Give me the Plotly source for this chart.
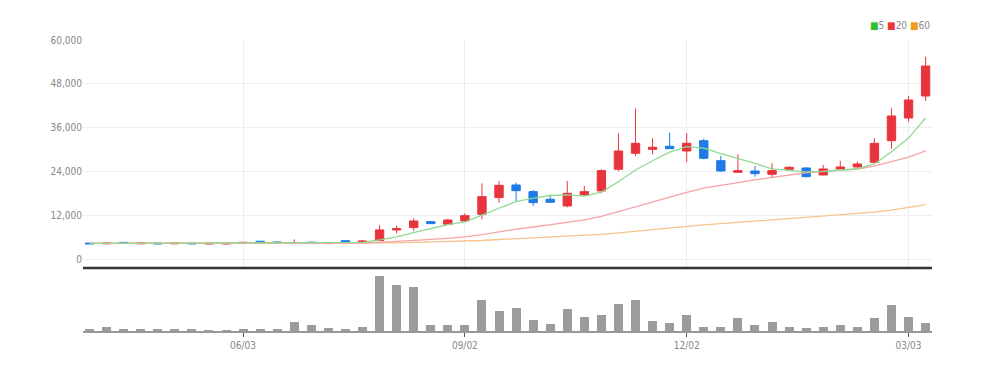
import pandas as pd
import plotly.graph_objects as go

# ---- data (weekly) ----
dates = pd.date_range("2024-04-01", periods=50, freq="7D")

opens = [4600, 4400, 4800, 4400, 4650, 4400, 4600, 4350, 4350, 4500,
         5100, 4900, 4500, 4850, 4450, 5250, 4850, 5270, 8180, 8820,
         10450, 9730, 10630, 12450, 17000, 20450, 18630, 16550, 14730, 17730,
         18820, 24730, 29100, 30180, 31000, 29720, 32540, 27080, 23910, 24270,
         23360, 24730, 25090, 23180, 24820, 25360, 26640, 32540, 38720, 44720]
highs = [4700, 4700, 4900, 4700, 4700, 4700, 4700, 4650, 4650, 4900,
         5200, 5000, 5600, 4950, 4800, 5350, 5500, 9540, 9270, 11360,
         10600, 11200, 12700, 20900, 21550, 21090, 19090, 17730, 21540, 20180,
         24730, 34540, 41360, 33180, 34720, 34540, 33080, 28360, 28820, 25630,
         26360, 25600, 25300, 25900, 27080, 26800, 33180, 41370, 44720, 55440]
lows = [4300, 4300, 4450, 4300, 4300, 4300, 4300, 4250, 4250, 4400,
        4700, 4500, 4400, 4500, 4350, 4750, 4750, 5200, 7280, 7900,
        9800, 9600, 10500, 11100, 15630, 15900, 14730, 15600, 14360, 17450,
        18180, 24270, 28360, 28820, 30300, 26640, 27450, 24000, 23910, 22720,
        22540, 24500, 22500, 23100, 24800, 25200, 26360, 30270, 37720, 43360]
closes = [4400, 4600, 4550, 4600, 4400, 4600, 4400, 4550, 4550, 4800,
          4800, 4600, 4750, 4600, 4700, 4850, 5150, 8180, 8540, 10630,
          9900, 10900, 12080, 17270, 20360, 18900, 15630, 15730, 18180, 18630,
          24360, 29720, 31820, 30730, 30360, 31820, 27730, 24270, 24360, 23540,
          24360, 25270, 22720, 24820, 25360, 26180, 31820, 39270, 43630, 52900]

ma5 = [4500, 4500, 4520, 4540, 4510, 4550, 4510, 4510, 4500, 4580,
       4620, 4660, 4700, 4710, 4690, 4700, 4810, 5500, 6280, 7470,
       8480, 9630, 10410, 12160, 14100, 15900, 16850, 17580, 17760, 17410,
       18510, 21320, 24540, 27050, 29400, 30890, 30490, 28980, 27710, 26340,
       24850, 24360, 24050, 24140, 24510, 24870, 26180, 29490, 33250, 38760]
ma20 = [4495, 4500, 4502, 4508, 4502, 4508, 4502, 4505, 4507, 4522,
        4538, 4542, 4555, 4560, 4570, 4588, 4620, 4804, 5006, 5313,
        5588, 5903, 6279, 6913, 7711, 8426, 8987, 9546, 10228, 10919,
        11897, 13153, 14507, 15813, 17096, 18445, 19574, 20378, 21169, 21815,
        22538, 23256, 23788, 24166, 24416, 24780, 25589, 26766, 28039, 29752]
ma60 = [4498, 4500, 4501, 4503, 4501, 4503, 4501, 4502, 4502, 4508,
        4513, 4514, 4518, 4520, 4523, 4529, 4540, 4601, 4669, 4771,
        4861, 4968, 5094, 5307, 5571, 5811, 5997, 6184, 6412, 6647,
        6978, 7399, 7854, 8291, 8722, 9177, 9565, 9894, 10225, 10542,
        10873, 11220, 11523, 11862, 12210, 12571, 13026, 13606, 14258, 15065]

volumes = [65000, 215000, 50000, 50000, 50000, 50000, 50000, 10000, 10000, 100000,
           115000, 65000, 450000, 315000, 135000, 50000, 200000, 2750000, 2315000, 2215000,
           315000, 315000, 315000, 1565000, 985000, 1150000, 565000, 365000, 1115000, 700000,
           785000, 1365000, 1565000, 485000, 400000, 785000, 215000, 215000, 635000, 315000,
           465000, 185000, 135000, 215000, 315000, 215000, 635000, 1285000, 700000, 400000]

tick_dates = ["2024-06-03", "2024-09-02", "2024-12-02", "2025-03-03"]
tick_labels = ["06/03", "09/02", "12/02", "03/03"]
price_ticks = [0, 12000, 24000, 36000, 48000, 60000]

RED = "#e8343c"
BLUE = "#1f7ae8"
FONT = "DejaVu Sans Condensed, Liberation Sans Narrow, Arial Narrow, sans-serif"

fig = go.Figure()
fig.add_trace(go.Scatter(x=dates, y=ma60, mode="lines", line=dict(color="#f7c38e", width=1.3),
                         xaxis="x", yaxis="y", showlegend=False, hoverinfo="skip"))
fig.add_trace(go.Scatter(x=dates, y=ma20, mode="lines", line=dict(color="#f5a3a8", width=1.3),
                         xaxis="x", yaxis="y", showlegend=False, hoverinfo="skip"))
fig.add_trace(go.Scatter(x=dates, y=ma5, mode="lines", line=dict(color="#8fd88f", width=1.3),
                         xaxis="x", yaxis="y", showlegend=False, hoverinfo="skip"))
fig.add_trace(go.Candlestick(
    x=dates, open=opens, high=highs, low=lows, close=closes,
    increasing=dict(line=dict(color=RED, width=1), fillcolor=RED),
    decreasing=dict(line=dict(color=BLUE, width=1), fillcolor=BLUE),
    whiskerwidth=0, xaxis="x", yaxis="y", showlegend=False))
fig.add_trace(go.Bar(x=dates, y=volumes, marker=dict(color="#9c9c9c", line=dict(width=0)),
                     width=3.7 * 86400000, xaxis="x2", yaxis="y2", showlegend=False))

x_range = ["2024-03-29 08:00", "2025-03-12 15:00"]

fig.update_layout(
    width=989, height=372,
    margin=dict(l=75, r=65, t=32, b=49, autoexpand=False),
    paper_bgcolor="white", plot_bgcolor="white",
    font=dict(family=FONT, size=10, color="#888"),
    bargap=0,
    xaxis=dict(domain=[0, 1], range=x_range, anchor="y", type="date",
               tickvals=tick_dates, showticklabels=False, ticks="",
               showgrid=True, gridcolor="#eeeeee", gridwidth=1, zeroline=False,
               showline=False, rangeslider=dict(visible=False), automargin=False),
    xaxis2=dict(domain=[0, 1], range=x_range, anchor="y2", type="date", matches="x",
                tickvals=tick_dates, ticktext=tick_labels, ticks="outside", ticklen=4,
                tickcolor="#555", showgrid=False, zeroline=False, showline=True,
                linecolor="#999", linewidth=2, automargin=False,
                tickfont=dict(family=FONT, size=10, color="#888")),
    yaxis=dict(domain=[0.2165, 1], range=[-2200, 60000], tickvals=price_ticks,
               tickformat=",", showgrid=True, gridcolor="#eeeeee", zeroline=False,
               showline=False, ticks="", automargin=False,
               tickfont=dict(family=FONT, size=10, color="#888")),
    yaxis2=dict(domain=[0, 0.206], range=[0, 3000000], showticklabels=False,
                showgrid=False, zeroline=False, showline=False, automargin=False),
    shapes=[dict(type="line", xref="paper", yref="y domain", x0=0, x1=1, y0=0, y1=0,
                 line=dict(color="#333", width=2.5))],
    annotations=[dict(
        xref="paper", yref="paper", x=1, y=1, yshift=15, xanchor="right", yanchor="middle",
        showarrow=False, font=dict(family=FONT, size=10, color="#888"),
        text=("<span style='color:#2fbf2f'>■</span>5 "
              "<span style='color:#ee3333'>■</span>20 "
              "<span style='color:#f29a1a'>■</span>60"))],
)

fig.write_html("out.html")
